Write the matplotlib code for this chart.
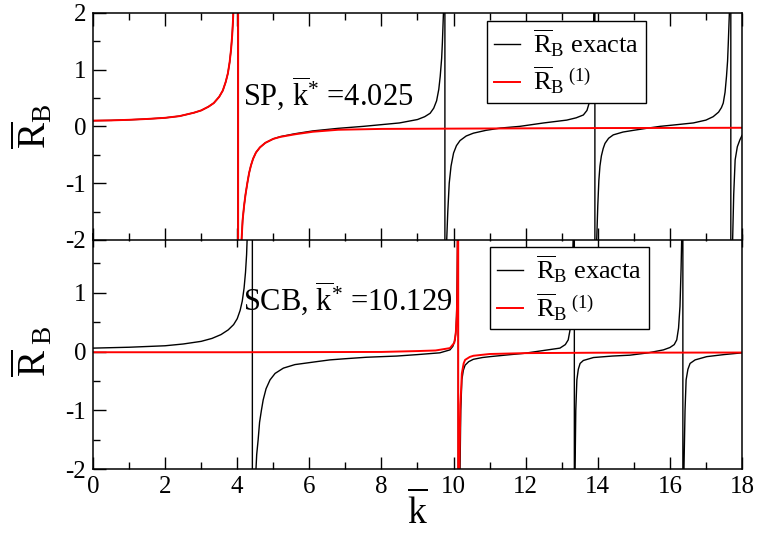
import matplotlib
matplotlib.use("Agg")
import matplotlib.pyplot as plt
from matplotlib.ticker import MultipleLocator

plt.rcParams["font.family"] = ["Liberation Serif", "DejaVu Serif"]
plt.rcParams["mathtext.fontset"] = "custom"
plt.rcParams["mathtext.rm"] = "Liberation Serif"
plt.rcParams["mathtext.it"] = "Liberation Serif:italic"
plt.rcParams["mathtext.bf"] = "Liberation Serif:bold"
plt.rcParams["axes.unicode_minus"] = False

# ---- SP panel: exact reflection coefficient (black) ----
k_sp_exact = [0.0, 0.5, 1.0, 1.5, 2.0, 2.4, 2.8, 3.0, 3.2, 3.35, 3.5, 3.6, 3.68, 3.74, 3.79, 3.83, 3.86, 3.88, 3.90, 3.93,
              4.02, 4.02,
              4.10, 4.12, 4.15, 4.19, 4.23, 4.28, 4.33, 4.38, 4.44, 4.52, 4.63, 4.78, 5.0, 5.2, 5.6, 6.1, 6.8, 7.5, 8.0,
              8.5, 9.0, 9.2, 9.35, 9.45, 9.53, 9.59, 9.63, 9.67, 9.69, 9.72, 9.74,
              9.76, 9.76,
              9.79, 9.81, 9.84, 9.88, 9.93, 10.0, 10.08, 10.18, 10.35, 10.55, 10.9, 11.3, 11.84, 12.5,
              13.14, 13.4, 13.6, 13.7, 13.78, 13.83, 13.87, 13.89, 13.90,
              13.92, 13.92,
              13.95, 13.97, 14.0, 14.03, 14.06, 14.1, 14.15, 14.2, 14.3, 14.43, 14.7, 14.99, 15.4, 15.73,
              16.2, 16.65, 17.0, 17.2, 17.35, 17.43, 17.48, 17.53, 17.57, 17.6, 17.62, 17.65, 17.67,
              17.69, 17.69,
              17.72, 17.74, 17.77, 17.81, 17.87, 17.94, 18.0]
r_sp_exact = [0.10, 0.105, 0.115, 0.13, 0.15, 0.18, 0.24, 0.28, 0.345, 0.41, 0.52, 0.63, 0.78, 0.93, 1.13, 1.36, 1.6, 1.83, 2.12, 2.8,
              40.0, -40.0,
              -2.8, -2.0, -1.65, -1.4, -1.2, -1.0, -0.82, -0.69, -0.57, -0.46, -0.37, -0.29, -0.22, -0.18, -0.13, -0.08, -0.035, 0.0, 0.03,
              0.06, 0.12, 0.17, 0.23, 0.32, 0.45, 0.65, 0.88, 1.2, 1.47, 2.0, 2.8,
              40.0, -40.0,
              -2.8, -2.0, -1.5, -1.0, -0.7, -0.47, -0.34, -0.25, -0.17, -0.12, -0.07, -0.03, 0.0, 0.06,
              0.11, 0.15, 0.2, 0.28, 0.45, 0.75, 1.3, 2.0, 2.8,
              40.0, -40.0,
              -2.8, -2.0, -1.4, -0.95, -0.7, -0.52, -0.39, -0.30, -0.21, -0.15, -0.10, -0.07, -0.03, 0.0,
              0.03, 0.06, 0.11, 0.17, 0.25, 0.33, 0.41, 0.6, 0.88, 1.15, 1.47, 2.0, 2.8,
              40.0, -40.0,
              -2.8, -2.0, -1.2, -0.59, -0.36, -0.24, -0.16]

# ---- SP panel: first-order approximation (red) ----
k_sp_approx = [0.0, 0.5, 1.0, 1.5, 2.0, 2.4, 2.8, 3.0, 3.2, 3.35, 3.5, 3.6, 3.68, 3.74, 3.79, 3.83, 3.86, 3.88, 3.90, 3.93,
               4.025, 4.025,
               4.10, 4.12, 4.15, 4.19, 4.23, 4.28, 4.33, 4.38, 4.44, 4.52, 4.63, 4.78, 5.0, 5.2, 5.6, 6.1, 6.8, 8.0,
               10.0, 12.0, 14.0, 16.0, 18.0]
r_sp_approx = [0.10, 0.105, 0.115, 0.13, 0.15, 0.18, 0.24, 0.28, 0.345, 0.41, 0.52, 0.63, 0.78, 0.93, 1.13, 1.36, 1.6, 1.83, 2.12, 2.8,
               40.0, -40.0,
               -2.8, -2.0, -1.65, -1.4, -1.2, -1.0, -0.82, -0.69, -0.57, -0.46, -0.37, -0.29, -0.22, -0.185, -0.14, -0.095, -0.06, -0.045,
               -0.04, -0.035, -0.03, -0.028, -0.025]

# ---- SCB panel: exact reflection coefficient (black) ----
k_scb_exact = [0.0, 1.0, 2.0, 2.5, 3.0, 3.3, 3.55, 3.75, 3.9, 4.0, 4.08, 4.14, 4.19, 4.23, 4.26, 4.28, 4.31,
               4.42, 4.42,
               4.49, 4.52, 4.54, 4.58, 4.62, 4.67, 4.72, 4.8, 4.91, 5.05, 5.28, 5.6, 6.2, 6.57, 7.0, 7.59, 8.42, 9.0,
               9.62, 9.9, 9.98, 10.04, 10.07, 10.09, 10.10, 10.11, 10.12,
               10.13, 10.13,
               10.16, 10.18, 10.2, 10.23, 10.27, 10.32, 10.42, 10.55, 10.8, 11.01, 11.5, 11.94, 12.5,
               12.95, 13.1, 13.18, 13.24, 13.28, 13.30, 13.32, 13.33,
               13.35, 13.35,
               13.36, 13.37, 13.39, 13.42, 13.46, 13.51, 13.6, 13.88, 14.4, 14.89, 15.4, 15.82, 16.0,
               16.12, 16.19, 16.24, 16.28, 16.31, 16.33, 16.34,
               16.36, 16.36,
               16.37, 16.39, 16.42, 16.45, 16.5, 16.56, 16.7, 17.02, 17.5, 18.0]
r_scb_exact = [0.06, 0.075, 0.10, 0.13, 0.175, 0.225, 0.29, 0.37, 0.46, 0.56, 0.70, 0.86, 1.08, 1.35, 1.65, 2.0, 2.8,
               40.0, -40.0,
               -2.8, -2.0, -1.75, -1.5, -1.2, -1.0, -0.82, -0.63, -0.48, -0.37, -0.28, -0.22, -0.17, -0.14, -0.12, -0.095, -0.075, -0.05,
               -0.02, 0.03, 0.09, 0.2, 0.4, 0.77, 1.3, 2.0, 2.8,
               40.0, -40.0,
               -2.8, -2.0, -1.0, -0.48, -0.32, -0.23, -0.17, -0.13, -0.1, -0.085, -0.055, -0.03, 0.02,
               0.06, 0.12, 0.2, 0.4, 0.9, 1.5, 2.0, 2.8,
               40.0, -40.0,
               -2.8, -2.0, -1.0, -0.48, -0.3, -0.2, -0.15, -0.1, -0.075, -0.06, -0.02, 0.03, 0.07,
               0.12, 0.2, 0.4, 0.77, 1.4, 2.0, 2.8,
               40.0, -40.0,
               -2.8, -2.0, -1.0, -0.48, -0.3, -0.2, -0.14, -0.085, -0.05, -0.02]

# ---- SCB panel: first-order approximation (red) ----
k_scb_approx = [0.0, 4.0, 8.0, 9.0, 9.5, 9.9, 10.02, 10.06, 10.09, 10.105, 10.115, 10.12,
                10.129, 10.129,
                10.14, 10.16, 10.19, 10.23, 10.28, 10.32, 10.45, 10.55, 11.0, 12.0, 14.0, 18.0]
r_scb_approx = [-0.01, -0.01, -0.005, 0.01, 0.02, 0.06, 0.15, 0.3, 0.6, 1.1, 2.0, 2.8,
                40.0, -40.0,
                -2.8, -2.0, -0.9, -0.37, -0.2, -0.14, -0.09, -0.07, -0.04, -0.025, -0.018, -0.015]

panel_labels = [r"SP, $\overline{\mathrm{k}}^{*}$ =4.025", r"SCB, $\overline{\mathrm{k}}^{*}$ =10.129"]
legend_labels = [r"$\overline{\mathrm{R}}_{\mathrm{B}}$ exacta", r"$\overline{\mathrm{R}}_{\mathrm{B}}{}^{\,\,(1)}$"]

W, H = 758, 535
fig = plt.figure(figsize=(W / 100, H / 100), dpi=100)

ax_bot = fig.add_axes([93 / W, 1 - 469.3 / H, 649 / W, 235.3 / H])
ax_top = fig.add_axes([93 / W, 1 - 240 / H, 649 / W, 227.3 / H])
ax_top.set_zorder(2)
ax_top.patch.set_facecolor("white")

black_lw, red_lw = 1.0, 1.4

ax_top.plot(k_sp_exact, r_sp_exact, color="black", lw=black_lw, label=legend_labels[0])
ax_top.plot(k_sp_approx, r_sp_approx, color="red", lw=red_lw, label=legend_labels[1])
ax_bot.plot(k_scb_exact, r_scb_exact, color="black", lw=black_lw, label=legend_labels[0])
ax_bot.plot(k_scb_approx, r_scb_approx, color="red", lw=red_lw, label=legend_labels[1])

tick_fs = 18
for ax in (ax_top, ax_bot):
    ax.set_xlim(0, 18)
    ax.set_ylim(-2, 2)
    ax.xaxis.set_major_locator(MultipleLocator(2))
    ax.xaxis.set_minor_locator(MultipleLocator(1))
    ax.yaxis.set_major_locator(MultipleLocator(1))
    ax.yaxis.set_minor_locator(MultipleLocator(0.5))
    ax.tick_params(which="both", direction="in", top=True, right=False, width=1.0,
                   labelsize=tick_fs, pad=5)
    ax.tick_params(which="major", length=9)
    ax.tick_params(which="minor", length=5)
    for s in ax.spines.values():
        s.set_linewidth(1.1)

ax_top.tick_params(labelbottom=False)
ax_bot.set_yticks([-2, -1, 0, 1])

ax_top.set_ylabel(r"$\overline{\mathrm{R}}_{\mathrm{B}}$", fontsize=28)
ax_bot.set_ylabel(r"$\overline{\mathrm{R}}_{\ \mathrm{B}}$", fontsize=28)
ax_top.yaxis.set_label_coords(-0.058, 0.5)
ax_bot.yaxis.set_label_coords(-0.058, 0.5)
ax_bot.set_xlabel(r"$\overline{\mathrm{k}}$", fontsize=27, labelpad=-5)

ax_top.text(0.231, 0.594, panel_labels[0], transform=ax_top.transAxes, fontsize=22, va="baseline")
ax_bot.text(0.231, 0.677, panel_labels[1], transform=ax_bot.transAxes, fontsize=22, va="baseline")

for ax, anchor in ((ax_top, (0.607, 0.9635)), (ax_bot, (0.612, 0.9435))):
    leg = ax.legend(loc="upper left", bbox_to_anchor=anchor, fontsize=19, frameon=True,
                    fancybox=False, edgecolor="black", framealpha=1.0,
                    handlelength=1.0, handletextpad=0.5, borderpad=0.25,
                    labelspacing=0.25, borderaxespad=0.0)
    leg.get_frame().set_linewidth(1.0)

fig.savefig("out.png", dpi=100)
